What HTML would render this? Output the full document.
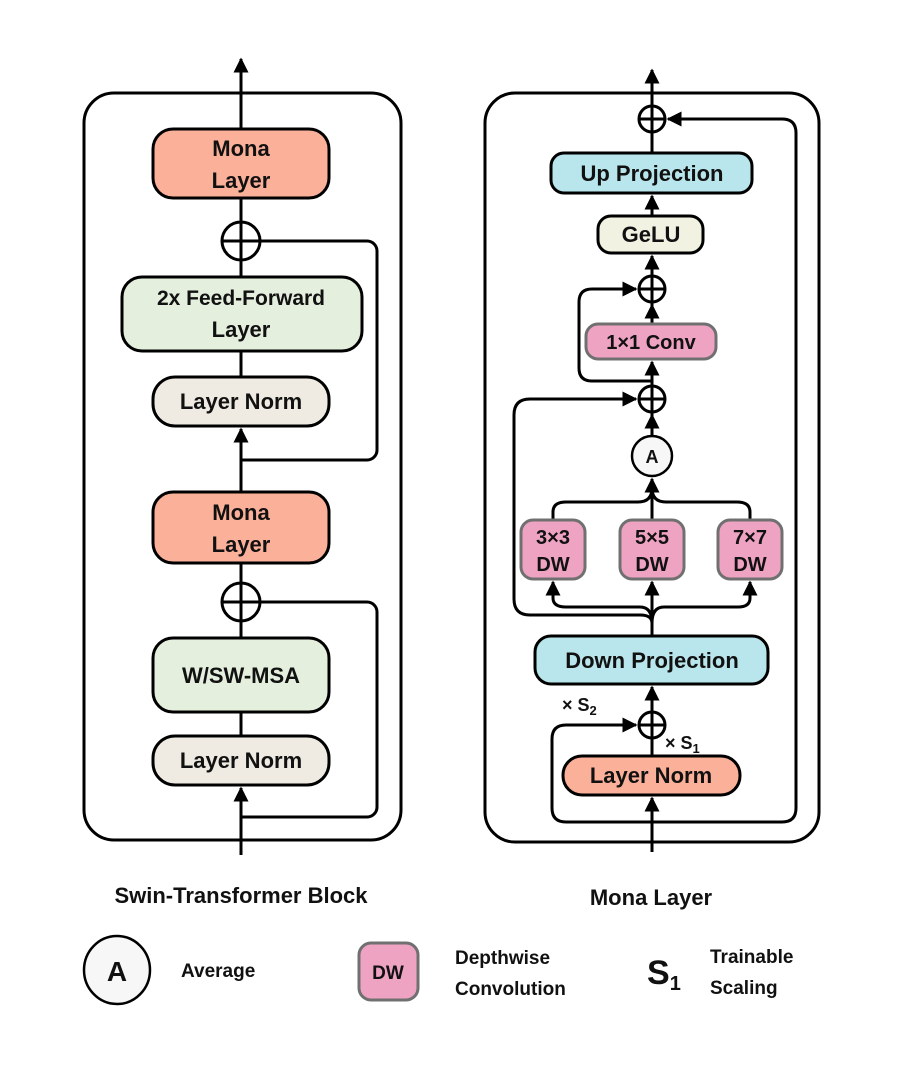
<!DOCTYPE html>
<html><head><meta charset="utf-8"><style>
html,body{margin:0;padding:0;background:#fff;}
svg{display:block;}
text{font-family:"Liberation Sans",sans-serif;font-weight:bold;fill:#111;}
</style></head><body>
<svg width="900" height="1066" viewBox="0 0 900 1066" xmlns="http://www.w3.org/2000/svg">
<defs>
<marker id="ar" viewBox="0 0 10 10" refX="9" refY="5" markerWidth="5.2" markerHeight="5" orient="auto" markerUnits="strokeWidth">
<path d="M0,0 L10,5 L0,10 z" fill="#000"/></marker>
</defs>
<g fill="none" stroke="#000" stroke-width="3">
<!-- LEFT PANEL -->
<rect x="84" y="93" width="317" height="747" rx="30"/>
<line x1="241" y1="855" x2="241" y2="788" marker-end="url(#ar)"/>
<line x1="241" y1="736" x2="241" y2="712"/>
<line x1="241" y1="638" x2="241" y2="563"/>
<line x1="241" y1="492" x2="241" y2="429" marker-end="url(#ar)"/>
<line x1="241" y1="377" x2="241" y2="351"/>
<line x1="241" y1="277" x2="241" y2="198"/>
<line x1="241" y1="129" x2="241" y2="59" marker-end="url(#ar)"/>
<path d="M222,241 H367 a10,10 0 0 1 10,10 V450 a10,10 0 0 1 -10,10 H241"/>
<path d="M222,602 H367 a10,10 0 0 1 10,10 V807 a10,10 0 0 1 -10,10 H241"/>
<circle cx="241" cy="241" r="19"/>
<circle cx="241" cy="602" r="19"/>
<rect x="153" y="129" width="176" height="69" rx="20" fill="#fbb09a"/>
<rect x="122" y="277" width="240" height="74" rx="20" fill="#e4efdd"/>
<rect x="153" y="377" width="176" height="49" rx="22" fill="#efebe2"/>
<rect x="153" y="492" width="176" height="71" rx="20" fill="#fbb09a"/>
<rect x="153" y="638" width="176" height="74" rx="20" fill="#e4efdd"/>
<rect x="153" y="736" width="176" height="49" rx="22" fill="#efebe2"/>

<!-- RIGHT PANEL -->
<rect x="485" y="93" width="334" height="749" rx="30"/>
<line x1="652" y1="852" x2="652" y2="798" marker-end="url(#ar)"/>
<line x1="652" y1="756" x2="652" y2="712"/>
<line x1="652" y1="738" x2="652" y2="687" marker-end="url(#ar)"/>
<line x1="652" y1="636" x2="652" y2="582" marker-end="url(#ar)"/>
<path d="M652,623 Q652,607 640,607 H566 Q553,607 553,598 V582" marker-end="url(#ar)"/>
<path d="M652,623 Q652,607 664,607 H738 Q750,607 750,598 V582" marker-end="url(#ar)"/>
<path d="M652,623 Q652,615 640,615 H530 Q514,615 514,599 V415 Q514,399 530,399 H636" marker-end="url(#ar)"/>
<path d="M553,520 V512 Q553,502 566,502 H638 Q652,502 652,488"/>
<path d="M750,520 V512 Q750,502 737,502 H666 Q652,502 652,488"/>
<line x1="652" y1="520" x2="652" y2="479" marker-end="url(#ar)"/>
<line x1="652" y1="436" x2="652" y2="386"/>
<line x1="652" y1="436" x2="652" y2="415" marker-end="url(#ar)"/>
<line x1="652" y1="386" x2="652" y2="362" marker-end="url(#ar)"/>
<path d="M652,381 H592 Q579,381 579,368 V302 Q579,289 592,289 H636" marker-end="url(#ar)"/>
<line x1="652" y1="324" x2="652" y2="276"/>
<line x1="652" y1="324" x2="652" y2="305" marker-end="url(#ar)"/>
<line x1="652" y1="276" x2="652" y2="256" marker-end="url(#ar)"/>
<line x1="652" y1="216" x2="652" y2="196" marker-end="url(#ar)"/>
<line x1="652" y1="153" x2="652" y2="70" marker-end="url(#ar)"/>
<path d="M652,822 H566 Q552,822 552,808 V739 Q552,725 566,725 H636" marker-end="url(#ar)"/>
<path d="M652,822 H782 Q796,822 796,808 V133 Q796,119 782,119 H668" marker-end="url(#ar)"/>
<circle cx="652" cy="119" r="13"/>
<circle cx="652" cy="289" r="13"/>
<circle cx="652" cy="399" r="13"/>
<circle cx="652" cy="725" r="13"/>
<path d="M639,119 H665 M639,289 H665 M639,399 H665 M639,725 H665"/>
<circle cx="652" cy="456" r="20" fill="#f7f7f7" stroke-width="2.5"/>
<rect x="551" y="153" width="201" height="40" rx="13" fill="#b9e6ec"/>
<rect x="598" y="216" width="105" height="37" rx="13" fill="#f2f2e3"/>
<rect x="586" y="324" width="130" height="35" rx="12" fill="#efa3c2" stroke="#707070"/>
<rect x="521" y="520" width="64" height="59" rx="12" fill="#efa3c2" stroke="#707070"/>
<rect x="620" y="520" width="64" height="59" rx="12" fill="#efa3c2" stroke="#707070"/>
<rect x="718" y="520" width="64" height="59" rx="12" fill="#efa3c2" stroke="#707070"/>
<rect x="535" y="636" width="233" height="48" rx="16" fill="#b9e6ec"/>
<rect x="563" y="756" width="177" height="39" rx="19" fill="#fbb09a"/>
<!-- legend -->
<ellipse cx="117" cy="970" rx="33" ry="34" fill="#f7f7f7" stroke-width="2.5"/>
<rect x="359" y="943" width="59" height="57" rx="12" fill="#efa3c2" stroke="#707070"/>
</g>
<g font-size="22" text-anchor="middle">
<text x="241" y="156">Mona</text><text x="241" y="188">Layer</text>
<text x="241" y="305" font-size="21">2x Feed-Forward</text><text x="241" y="337">Layer</text>
<text x="241" y="409">Layer Norm</text>
<text x="241" y="520">Mona</text><text x="241" y="552">Layer</text>
<text x="241" y="683">W/SW-MSA</text>
<text x="241" y="768">Layer Norm</text>
<text x="652" y="181">Up Projection</text>
<text x="651" y="242">GeLU</text>
<text x="651" y="349" font-size="20">1×1 Conv</text>
<text x="553" y="544" font-size="20">3×3</text><text x="553" y="571" font-size="20">DW</text>
<text x="652" y="544" font-size="20">5×5</text><text x="652" y="571" font-size="20">DW</text>
<text x="750" y="544" font-size="20">7×7</text><text x="750" y="571" font-size="20">DW</text>
<text x="652" y="668">Down Projection</text>
<text x="651" y="783">Layer Norm</text>
<text x="652" y="463" font-size="18">A</text>
</g>
<text x="562" y="711" font-size="18">× S<tspan font-size="13" dy="4">2</tspan></text>
<text x="665" y="749" font-size="18">× S<tspan font-size="13" dy="4">1</tspan></text>
<text x="241" y="903" font-size="22" text-anchor="middle">Swin-Transformer Block</text>
<text x="651" y="905" font-size="22" text-anchor="middle">Mona Layer</text>
<text x="117" y="981" font-size="28" text-anchor="middle">A</text>
<text x="181" y="977" font-size="19">Average</text>
<text x="388" y="979" font-size="19" text-anchor="middle">DW</text>
<text x="455" y="964" font-size="19">Depthwise</text>
<text x="455" y="995" font-size="19">Convolution</text>
<text x="647" y="984" font-size="34">S<tspan font-size="20" dy="6">1</tspan></text>
<text x="710" y="963" font-size="19">Trainable</text>
<text x="710" y="994" font-size="19">Scaling</text>
</svg>
</body></html>
